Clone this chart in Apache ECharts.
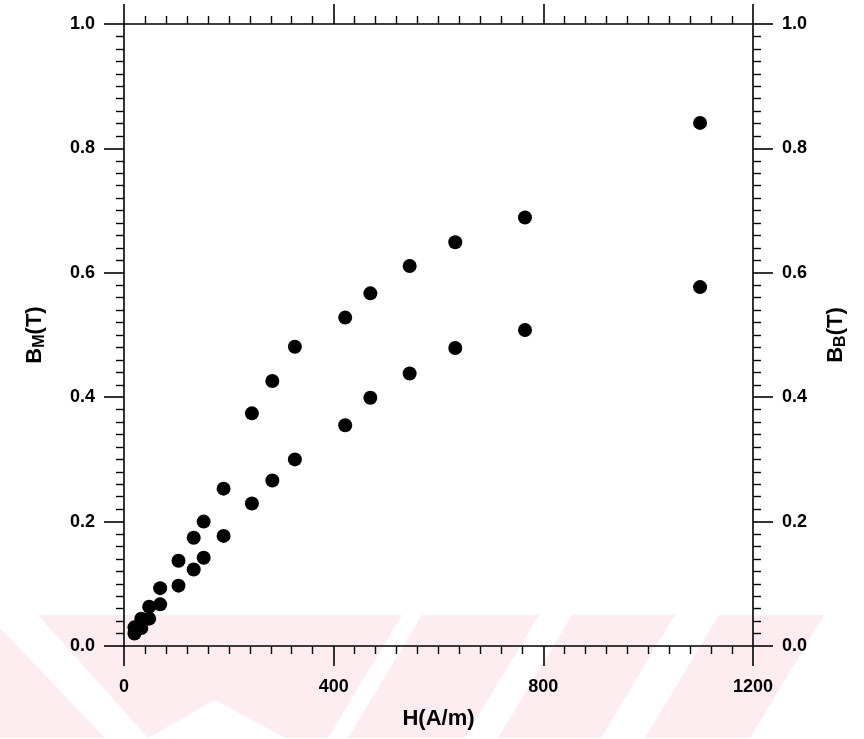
<!DOCTYPE html>
<html>
<head>
<meta charset="utf-8">
<script src="https://cdn.jsdelivr.net/npm/echarts@6/dist/echarts.min.js"></script>
<style>
html,body{margin:0;padding:0;background:#fff;}
#chart{width:864px;height:739px;}
</style>
</head>
<body>
<div id="chart"></div>
<script>
// H values (A/m)
const H = [20, 33, 48, 69, 104, 133, 152, 190, 244, 283, 326, 422, 470, 545, 632, 765, 1099];
// B_M (T) - upper points
const BM = [0.030, 0.044, 0.063, 0.093, 0.137, 0.174, 0.200, 0.253, 0.374, 0.426, 0.481, 0.528, 0.567, 0.611, 0.649, 0.689, 0.841];
// B_B (T) - lower points
const BB = [0.020, 0.029, 0.044, 0.067, 0.097, 0.123, 0.142, 0.177, 0.229, 0.266, 0.300, 0.355, 0.399, 0.438, 0.479, 0.508, 0.577];
const xTicks = [0, 400, 800, 1200];
const yTicks = [0.0, 0.2, 0.4, 0.6, 0.8, 1.0];

const FONT = 'Liberation Sans, Arial, sans-serif';
const chart = echarts.init(document.getElementById('chart'));

const pink = '#fdedf0';
const wm = [
  [[0,628],[0,738],[105,738]],
  [[38,615],[402,615],[328,738],[285,738],[215,700],[148,738]],
  [[422,615],[539,615],[465,738],[348,738]],
  [[572,615],[675,615],[601,738],[498,738]],
  [[719,615],[824,615],[750,738],[645,738]]
];

function lineStyle(){ return {color:'#000', width:1.6}; }
function baseX(pos, showLabel){
  return {
    type:'value', position:pos, min:0, max:1200, interval:400,
    axisLine:{show:true, onZero:false, lineStyle:lineStyle()},
    axisTick:{show:true, inside:false, length:20, lineStyle:lineStyle()},
    minorTick:{show:true, splitNumber:10, length:8, lineStyle:{color:'#000', width:1.4}},
    splitLine:{show:false},
    axisLabel:{show:showLabel, margin:32, color:'#000', fontSize:18, fontWeight:'bold', fontFamily:FONT,
      formatter:v => xTicks.includes(v) ? String(v) : ''}
  };
}
function baseY(pos, sub){
  return {
    type:'value', position:pos, min:0, max:1, interval:0.2,
    name:'{a|B}{b|' + sub + '}{a|(T)}',
    nameLocation:'middle', nameRotate:90, nameGap: pos === 'left' ? 76 : 72,
    nameTextStyle:{
      color:'#000', fontFamily:FONT,
      rich:{
        a:{fontSize:22, fontWeight:'bold', fontFamily:FONT, color:'#000', lineHeight:24, verticalAlign:'top', padding:[0,0,3,0]},
        b:{fontSize:16, fontWeight:'bold', fontFamily:FONT, color:'#000', lineHeight:17, verticalAlign:'bottom'}
      }
    },
    axisLine:{show:true, onZero:false, lineStyle:lineStyle()},
    axisTick:{show:true, inside:false, length:20, lineStyle:lineStyle()},
    minorTick:{show:true, splitNumber:10, length:8, lineStyle:{color:'#000', width:1.4}},
    splitLine:{show:false},
    axisLabel:{show:true, margin:29, color:'#000', fontSize:18, fontWeight:'bold', fontFamily:FONT,
      formatter:v => yTicks.some(t => Math.abs(t - v) < 1e-9) ? v.toFixed(1) : ''}
  };
}

const xb = baseX('bottom', true);
xb.name = 'H(A/m)';
xb.nameLocation = 'middle';
xb.nameGap = 62;
xb.nameTextStyle = {color:'#000', fontSize:22, fontWeight:'bold', fontFamily:FONT};

chart.setOption({
  backgroundColor:'#fff',
  animation:false,
  graphic: wm.map(pts => ({type:'polygon', z:-100, silent:true, shape:{points:pts}, style:{fill:pink}})),
  grid:{left:124, right:111, top:24, bottom:93, containLabel:false},
  xAxis:[xb, baseX('top', false)],
  yAxis:[baseY('left','M'), baseY('right','B')],
  series:[
    {type:'scatter', xAxisIndex:0, yAxisIndex:0, symbol:'circle', symbolSize:14,
     itemStyle:{color:'#000', opacity:1}, data:H.map((h,i)=>[h, BM[i]])},
    {type:'scatter', xAxisIndex:0, yAxisIndex:1, symbol:'circle', symbolSize:14,
     itemStyle:{color:'#000', opacity:1}, data:H.map((h,i)=>[h, BB[i]])}
  ]
});
</script>
</body>
</html>
